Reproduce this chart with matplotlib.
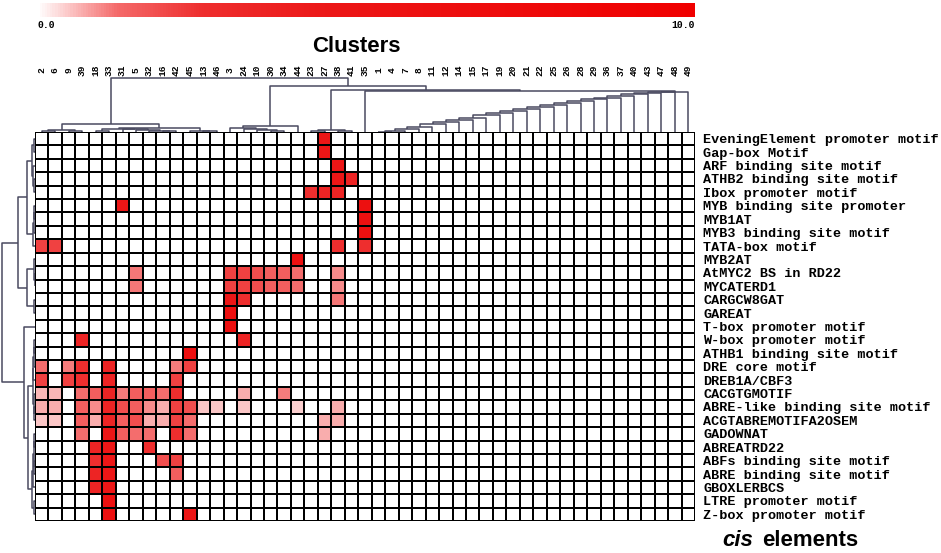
import numpy as np
import matplotlib
matplotlib.use('Agg')
import matplotlib.pyplot as plt
from matplotlib.colors import LinearSegmentedColormap, Normalize
from matplotlib.cm import ScalarMappable
from matplotlib.transforms import blended_transform_factory

# column order (cluster ids) as drawn
clusters = [2, 6, 9, 39, 18, 33, 31, 5, 32, 16, 42, 45, 13, 46, 3, 24, 10, 30, 34, 44,
            23, 27, 38, 41, 35, 1, 4, 7, 8, 11, 12, 14, 15, 17, 19, 20, 21, 22, 25, 26,
            28, 29, 36, 37, 40, 43, 47, 48, 49]

elements = ['EveningElement promoter motif', 'Gap-box Motif', 'ARF binding site motif',
            'ATHB2 binding site motif', 'Ibox promoter motif', 'MYB binding site promoter',
            'MYB1AT', 'MYB3 binding site motif', 'TATA-box motif', 'MYB2AT',
            'AtMYC2 BS in RD22', 'MYCATERD1', 'CARGCW8GAT', 'GAREAT',
            'T-box promoter motif', 'W-box promoter motif', 'ATHB1 binding site motif',
            'DRE core motif', 'DREB1A/CBF3', 'CACGTGMOTIF', 'ABRE-like binding site motif',
            'ACGTABREMOTIFA2OSEM', 'GADOWNAT', 'ABREATRD22', 'ABFs binding site motif',
            'ABRE binding site motif', 'GBOXLERBCS', 'LTRE promoter motif',
            'Z-box promoter motif']

# non-empty cells, one dict per cis element: {cluster id: value}
hits = [
    {27: 4.5},
    {27: 4.5},
    {38: 4.5},
    {38: 4.5, 41: 3.3},
    {23: 2.5, 27: 3.3, 38: 3.3},
    {31: 4.5, 35: 6.0},
    {35: 6.0},
    {35: 6.0},
    {2: 2.1, 6: 2.1, 38: 2.5, 35: 2.5},
    {44: 6.0},
    {5: 1.1, 3: 2.1, 24: 2.1, 10: 1.8, 30: 1.45, 34: 1.45, 44: 1.2, 38: 0.95},
    {5: 1.1, 3: 2.1, 24: 2.1, 10: 1.8, 30: 1.45, 34: 1.45, 44: 1.2, 38: 0.95},
    {3: 4.5, 24: 2.5, 38: 1.1},
    {3: 6.0},
    {3: 6.0},
    {39: 3.3, 24: 3.3},
    {45: 6.0},
    {2: 1.2, 9: 1.07, 39: 2.5, 33: 3.3, 42: 1.07, 45: 2.1},
    {2: 2.1, 9: 2.1, 39: 2.5, 33: 3.3, 42: 2.1},
    {2: 0.6, 6: 0.6, 39: 1.2, 18: 1.45, 33: 3.3, 31: 1.07, 5: 1.45, 32: 1.45, 16: 1.2,
     42: 2.5, 24: 0.7, 34: 1.07},
    {2: 0.7, 6: 0.7, 39: 1.45, 18: 0.95, 33: 3.3, 31: 1.8, 5: 1.45, 32: 0.95, 16: 0.7,
     42: 2.1, 45: 1.8, 13: 0.5, 46: 0.5, 24: 0.5, 44: 0.4, 38: 0.7},
    {2: 0.5, 6: 0.5, 39: 1.45, 18: 0.7, 33: 3.3, 31: 1.45, 5: 1.8, 32: 0.7, 16: 0.7,
     42: 2.1, 45: 1.2, 27: 0.7, 38: 0.7},
    {39: 1.2, 33: 4.5, 31: 1.45, 5: 1.2, 32: 1.2, 42: 2.5, 45: 1.2, 27: 0.7},
    {18: 3.3, 33: 4.5, 32: 2.5},
    {18: 2.5, 33: 4.5, 16: 1.8, 42: 2.1},
    {18: 3.3, 33: 4.5, 42: 1.45},
    {18: 3.3, 33: 4.5},
    {33: 6.0},
    {33: 6.0, 45: 4.5},
]

# dendrograms as (left, right, height); ints are leaf positions
chain_heights = [0.4, 1.0, 2.7, 5.0, 7.7, 10.3, 12.3, 14.3, 16.7, 18.7, 21.0, 23.3,
                 25.0, 27.0, 28.7, 31.0, 32.7, 34.3, 36.0, 37.7, 39.0, 39.6, 40.0]
chain = 25
for leaf, h in zip(range(26, 49), chain_heights):
    chain = (chain, leaf, h)

col_tree = (
    (((0, 1, 0.8), (2, 3, 0.8), 1.7),
     (((4, 5, 1.0), (6, (7, (8, (9, 10, 1.0), 1.5), 2.0), 3.0), 3.5),
      (11, (12, 13, 0.6), 1.0), 4.5),
     8.3),
    (((14, (15, (16, (17, 18, 1.0), 1.8), 2.6), 3.6), 19, 6.0),
     (((20, 21, 1.0), (22, 23, 1.0), 1.7), (24, chain, 40.8), 42.0),
     46.0),
    54.3)

row_tree = (
    ((((0, 1, 0.8), (2, (3, 4, 1.0), 1.6), 3.0),
      ((((5, 6, 0.8), 7, 1.4), 8, 2.5)), 8.0),
     ((9, (10, 11, 0.5), 1.5), (12, 13, 1.0), 8.5),
     16.7),
    (14,
     (((((15, 16, 0.8), 17, 1.3), 18, 1.8), (19, (20, 21, 0.6), 1.1), 2.5),
      ((((22, 23, 0.6), (24, 25, 0.8), 1.3), 26, 1.9), (27, 28, 0.8), 2.8), 7.5),
     11.0),
    33.3)

# value matrix
mat = np.zeros((len(elements), len(clusters)))
for r, d in enumerate(hits):
    for c, v in d.items():
        mat[r, clusters.index(c)] = v

cmap = LinearSegmentedColormap.from_list('wr', [
    (0.0, '#ffffff'), (0.05, '#fbc2c2'), (0.12, '#f46a6a'),
    (0.25, '#ee2e2e'), (0.45, '#ec1616'), (1.0, '#f00000')])

W, H = 941, 553
fig = plt.figure(figsize=(W / 100, H / 100), dpi=100)


def box(x0, y0, x1, y1):
    return [x0 / W, 1 - y1 / H, (x1 - x0) / W, (y1 - y0) / H]


mono = 'Liberation Mono'
dcol = '#4a4a60'

# heatmap
ax = fig.add_axes(box(35, 132, 695, 521))
ax.pcolormesh(mat, cmap=cmap, vmin=0, vmax=10, edgecolors='black', linewidth=1.4)
ax.set_xlim(0, len(clusters))
ax.set_ylim(len(elements), 0)
ax.set_xticks([])
ax.set_yticks(np.arange(len(elements)) + 0.5)
ax.set_yticklabels(elements, family=mono, fontweight='bold', fontsize=9.7)
ax.yaxis.tick_right()
ax.tick_params(axis='y', length=0, pad=6)
for s in ax.spines.values():
    s.set_visible(False)


def draw_tree(node, axis, top):
    if isinstance(node, int):
        return node + 0.5, 0.0
    a, b, h = node
    pa, ha = draw_tree(a, axis, top)
    pb, hb = draw_tree(b, axis, top)
    ps = [pa, pa, pb, pb]
    hs = [ha, h, h, hb]
    if top:
        axis.plot(ps, hs, color=dcol, lw=1.1, solid_capstyle='butt')
    else:
        axis.plot(hs, ps, color=dcol, lw=1.1, solid_capstyle='butt')
    return (pa + pb) / 2, h


# top dendrogram
axt = fig.add_axes(box(35, 75, 695, 132))
draw_tree(col_tree, axt, True)
axt.set_xlim(0, len(clusters))
axt.set_ylim(0, 57)
axt.axis('off')

trans = blended_transform_factory(axt.transData, fig.transFigure)
for i, c in enumerate(clusters):
    axt.text(i + 0.5, 1 - 70 / H, str(c), transform=trans, rotation=90,
             ha='center', va='center', fontsize=6.8, fontweight='bold', family=mono)

# left dendrogram
axl = fig.add_axes(box(0, 132, 35, 521))
draw_tree(row_tree, axl, False)
axl.set_xlim(35, 0)
axl.set_ylim(len(elements), 0)
axl.axis('off')

# colour bar
axc = fig.add_axes(box(37, 3, 695, 17))
cb = fig.colorbar(ScalarMappable(Normalize(0, 10), cmap), cax=axc, orientation='horizontal')
cb.set_ticks([])
cb.outline.set_visible(False)
fig.text(37 / W, 1 - 25 / H, '0.0', ha='left', va='center', fontsize=7,
         fontweight='bold', family=mono)
fig.text(695 / W, 1 - 25 / H, '10.0', ha='right', va='center', fontsize=7,
         fontweight='bold', family=mono)

fig.text(356 / W, 1 - 46 / H, 'Clusters', ha='center', va='center', fontsize=16,
         fontweight='bold', family='Liberation Sans')
fig.text(722 / W, 1 - 541 / H, 'cis', ha='left', va='center', fontsize=16,
         fontweight='bold', fontstyle='italic', family='Liberation Sans')
fig.text(762 / W, 1 - 541 / H, 'elements', ha='left', va='center', fontsize=16,
         fontweight='bold', family='Liberation Sans')

fig.savefig('out.png', dpi=100)
